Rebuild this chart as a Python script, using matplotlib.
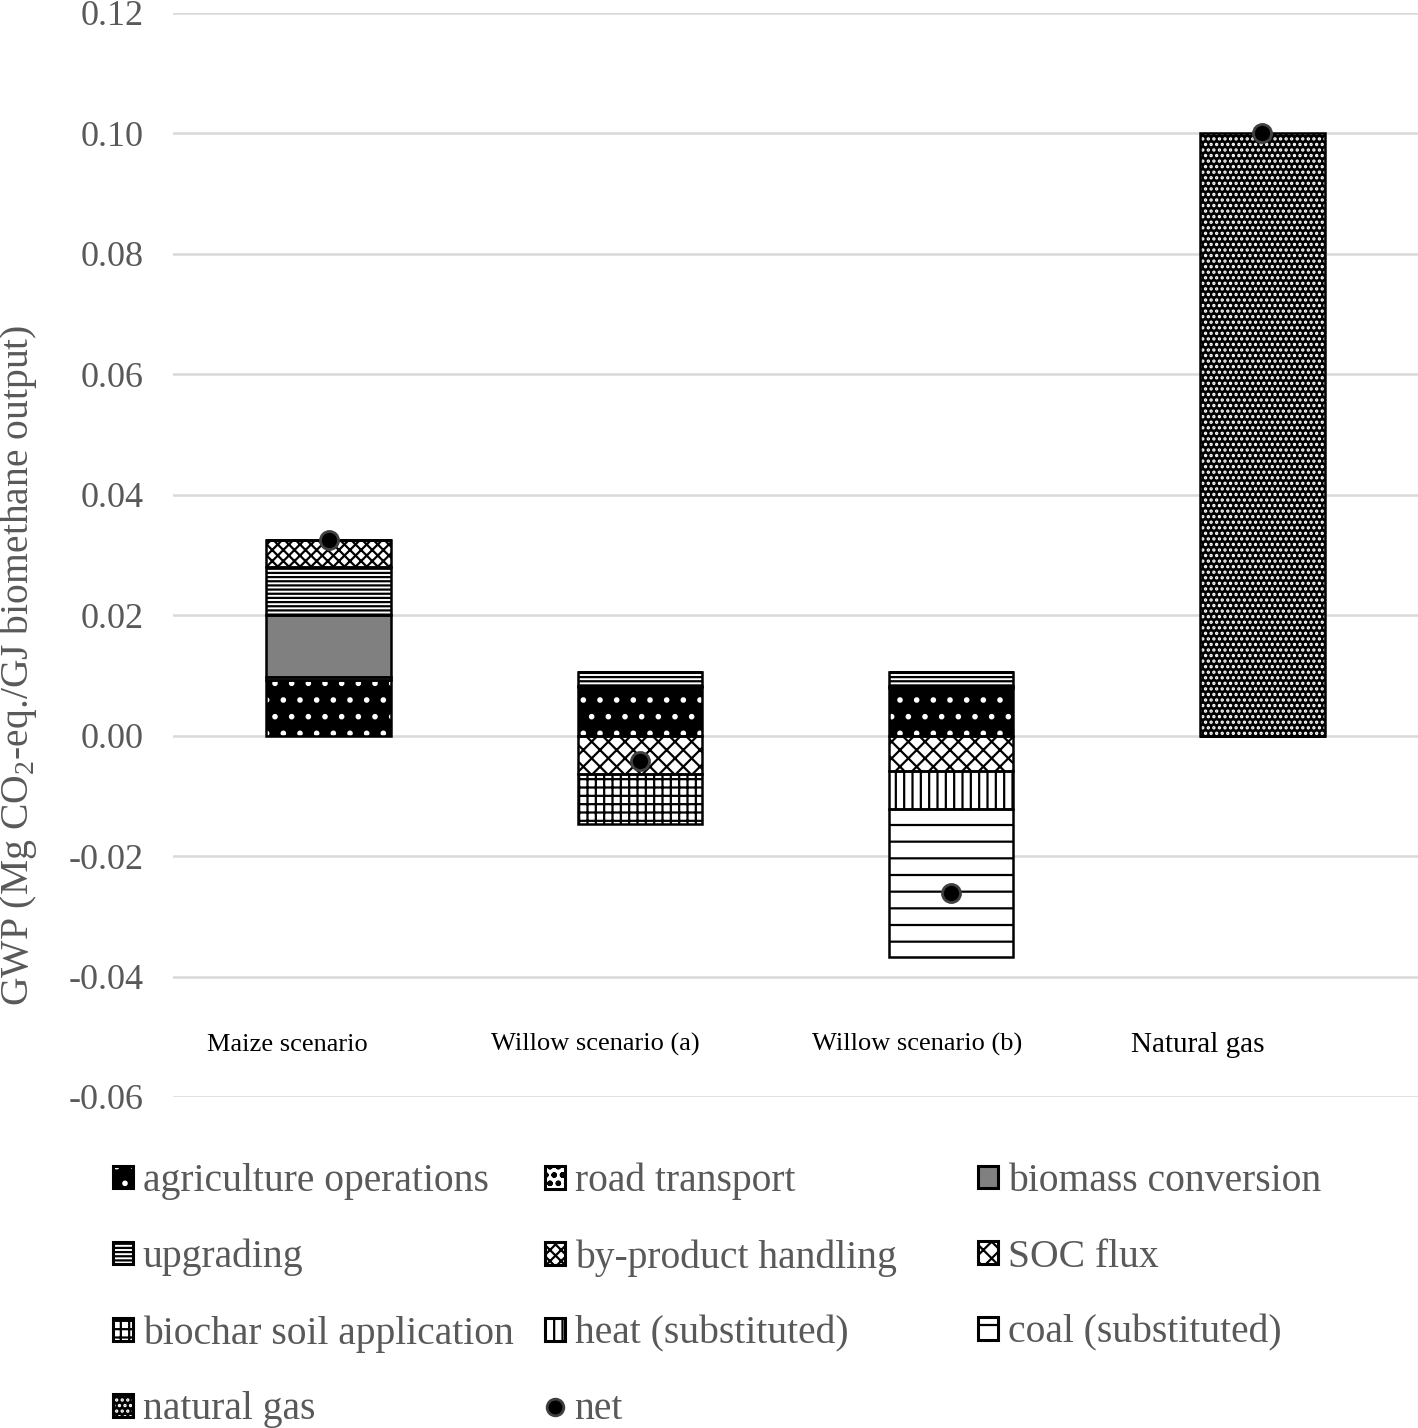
import numpy as np
import matplotlib
matplotlib.use("Agg")
import matplotlib.pyplot as plt
from matplotlib.lines import Line2D
from matplotlib.patches import Patch
from matplotlib.legend_handler import HandlerTuple

plt.rcParams['font.family'] = ['Liberation Serif', 'DejaVu Serif']
plt.rcParams['mathtext.fontset'] = 'custom'
plt.rcParams['mathtext.rm'] = 'Liberation Serif'
plt.rcParams['hatch.linewidth'] = 1.6

# categories and stacked contributions (Mg CO2-eq./GJ)
categories = ['Maize scenario', 'Willow scenario (a)', 'Willow scenario (b)', 'Natural gas']
agri = [0.0093, 0.0080, 0.0079, 0.0]
road = [0.0004, 0.0003, 0.0003, 0.0]
biomass = [0.0103, 0.0, 0.0, 0.0]
upgrading = [0.0080, 0.0023, 0.0023, 0.0]
byproduct = [0.0045, 0.0, 0.0, 0.0]
soc = [0.0, -0.0063, -0.0058, 0.0]
biochar = [0.0, -0.0083, 0.0, 0.0]
heat = [0.0, 0.0, -0.0064, 0.0]
coal = [0.0, 0.0, -0.0245, 0.0]
natgas = [0.0, 0.0, 0.0, 0.100]
net = [0.0325, -0.0042, -0.0262, 0.100]

series = [
    ('agriculture operations', agri),
    ('road transport', road),
    ('biomass conversion', biomass),
    ('upgrading', upgrading),
    ('by-product handling', byproduct),
    ('SOC flux', soc),
    ('biochar soil application', biochar),
    ('heat (substituted)', heat),
    ('coal (substituted)', coal),
    ('natural gas', natgas),
]

# face colour, hatch, hatch colour
styles = {
    'agriculture operations': ('black', '.', 'white'),
    'road transport': ('white', 'oo', 'black'),
    'biomass conversion': ('#808080', '', 'black'),
    'upgrading': ('white', '----', 'black'),
    'by-product handling': ('white', 'xxx', 'black'),
    'SOC flux': ('white', 'xx', 'black'),
    'biochar soil application': ('white', '++', 'black'),
    'heat (substituted)': ('white', '||', 'black'),
    'coal (substituted)': ('white', '-', 'black'),
    'natural gas': ('black', '...', 'white'),
}

grey = '#595959'
fig = plt.figure(figsize=(14.18, 14.28), dpi=100)
ax = fig.add_axes([0.122, 0.2318, 0.878, 0.7591])

x = np.arange(len(categories))
width = 0.4
pos_base = np.zeros(len(categories))
neg_base = np.zeros(len(categories))
handles = {}
for name, vals in series:
    vals = np.array(vals)
    face, hatch, hcol = styles[name]
    bottoms = np.where(vals >= 0, pos_base, neg_base)
    # hatch layer (hatch colour comes from edgecolor)
    ax.bar(x, vals, width, bottom=bottoms, color=face, edgecolor=hcol,
           hatch=hatch, linewidth=0, zorder=2)
    # outline layer
    ax.bar(x, vals, width, bottom=bottoms, fill=False, edgecolor='black',
           linewidth=1.8, zorder=3)
    pos_base = pos_base + np.where(vals > 0, vals, 0)
    neg_base = neg_base + np.where(vals < 0, vals, 0)
    handles[name] = (Patch(facecolor=face, edgecolor=hcol, hatch=hatch, linewidth=0),
                     Patch(fill=False, edgecolor='black', linewidth=2.2))

ax.plot(x, net, linestyle='none', marker='o', markersize=13,
        markerfacecolor='black', markeredgecolor='#404040', markeredgewidth=2, zorder=4)
handles['net'] = Line2D([], [], linestyle='none', marker='o', markersize=12,
                        markerfacecolor='black', markeredgecolor='#404040', markeredgewidth=2)

ax.set_ylim(-0.06, 0.12)
ax.set_xlim(-0.5, 3.5)
ax.set_yticks(np.arange(-0.06, 0.1201, 0.02))
ax.yaxis.set_major_formatter(plt.FormatStrFormatter('%.2f'))
ax.tick_params(axis='y', length=0, pad=21, labelsize=26, labelcolor=grey)
ax.set_xticks([])
ax.grid(axis='y', color='#d9d9d9', linewidth=1.8, zorder=0)
ax.set_axisbelow(True)
for s in ax.spines.values():
    s.set_visible(False)

# category labels sit inside the plot area
label_dx = [-0.133, -0.143, -0.108, -0.207]
label_size = [19, 19, 19, 21]
for i, lab in enumerate(categories):
    ax.text(x[i] + label_dx[i], -0.0513, lab, ha='center', va='center',
            fontsize=label_size[i], color='black')

fig.text(0.013, 0.534, r'GWP (Mg CO$_2$-eq./GJ biomethane output)', rotation=90,
         ha='center', va='center', fontsize=28.5, color=grey)

# legend laid out as three fixed-width columns
columns = [
    ['agriculture operations', 'upgrading', 'biochar soil application', 'natural gas'],
    ['road transport', 'by-product handling', 'heat (substituted)', 'net'],
    ['biomass conversion', 'SOC flux', 'coal (substituted)'],
]
col_x = [0.0797, 0.3843, 0.6897]
for cx, names in zip(col_x, columns):
    fig.legend([handles[k] for k in names], names, ncol=1, loc='upper left',
               bbox_to_anchor=(cx, 0.1856), frameon=False, fontsize=28.5,
               handlelength=0.5, handleheight=0.5, handletextpad=0.25,
               labelspacing=0.98, labelcolor=grey, borderpad=0, borderaxespad=0,
               handler_map={tuple: HandlerTuple(ndivide=1, pad=0)})

fig.savefig('out.png', dpi=100)
